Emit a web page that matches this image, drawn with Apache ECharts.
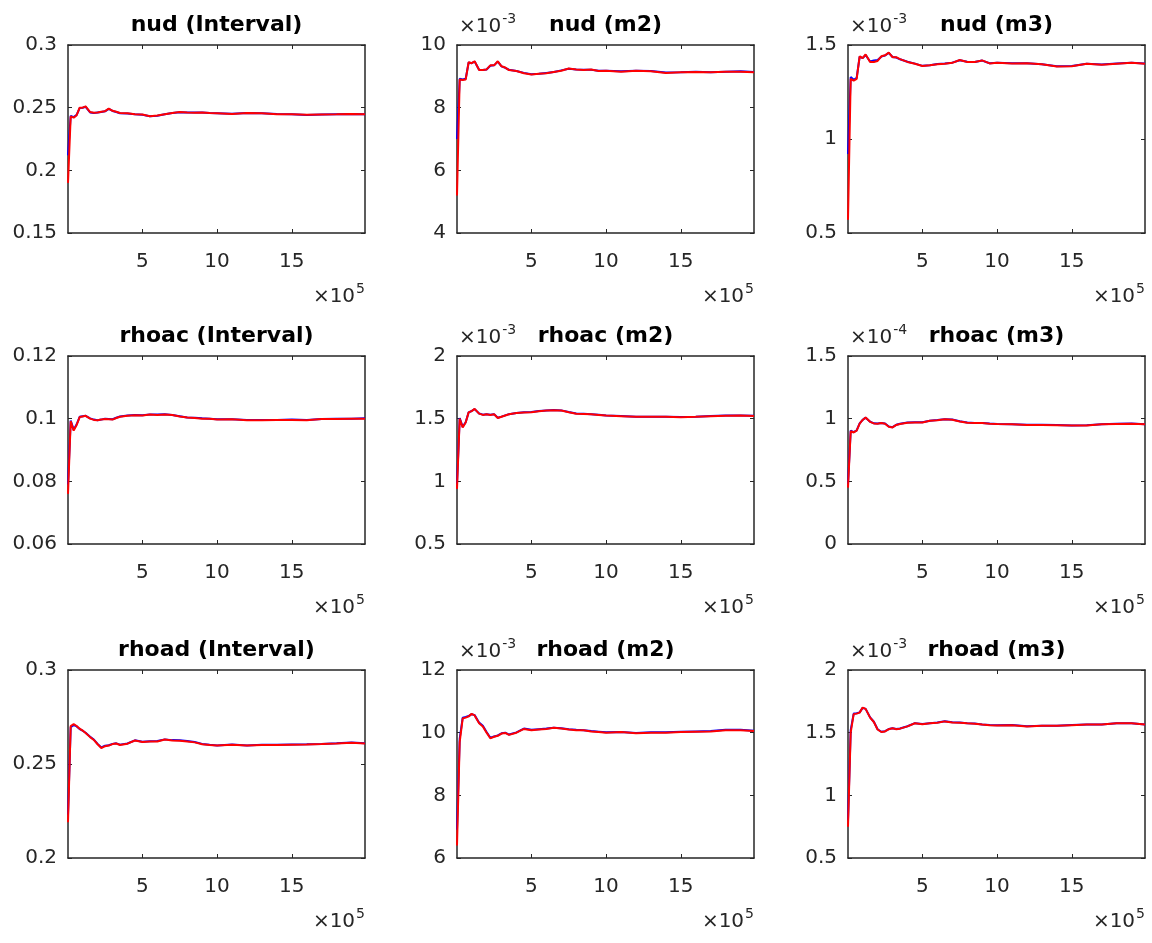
<!DOCTYPE html>
<html>
<head>
<meta charset="utf-8">
<script src="https://cdn.jsdelivr.net/npm/echarts@6/dist/echarts.min.js"></script>
<style>html,body{margin:0;padding:0;background:#fff}#c{width:1152px;height:943px}</style>
</head>
<body>
<div id="c"></div>
<script>
// draws (x 10^5)
const iterations = [0.02,0.2,0.4,0.6,0.8,1.0,1.2,1.5,1.75,2.0,2.25,2.5,2.75,3.0,3.25,3.5,4,4.5,5,5.5,6,6.5,7,7.5,8,8.5,9,9.5,10,11,12,13,14,15,16,17,18,19,19.9];
const xTicks = [5,10,15];

const titles = ['nud (Interval)','nud (m2)','nud (m3)','rhoac (Interval)','rhoac (m2)','rhoac (m3)','rhoad (Interval)','rhoad (m2)','rhoad (m3)'];
const exponents = ['','-3','-3','','-3','-4','','-3','-3'];
const xExponent = '5';

const nudIntervalTicks = [0.15,0.2,0.25,0.3];
const nudM2Ticks = [4,6,8,10];
const nudM3Ticks = [0.5,1,1.5];
const rhoacIntervalTicks = [0.06,0.08,0.1,0.12];
const rhoacM2Ticks = [0.5,1,1.5,2];
const rhoacM3Ticks = [0,0.5,1,1.5];
const rhoadIntervalTicks = [0.2,0.25,0.3];
const rhoadM2Ticks = [6,8,10,12];
const rhoadM3Ticks = [0.5,1,1.5,2];

const nudIntervalRed  = [0.190,0.2430,0.2420,0.2440,0.2500,0.2500,0.2510,0.2465,0.2460,0.2462,0.2468,0.2472,0.2492,0.2475,0.2468,0.2458,0.2455,0.2448,0.2445,0.2432,0.2437,0.2448,0.2458,0.2465,0.2462,0.2460,0.2462,0.2457,0.2455,0.2450,0.2457,0.2455,0.2448,0.2447,0.2443,0.2446,0.2447,0.2449,0.2447];
const nudIntervalBlue = [0.212,0.2435,0.2425,0.2442,0.2497,0.2500,0.2507,0.2462,0.2458,0.2462,0.2466,0.2471,0.2490,0.2474,0.2466,0.2456,0.2454,0.2447,0.2444,0.2432,0.2436,0.2447,0.2457,0.2464,0.2462,0.2461,0.2462,0.2458,0.2456,0.2451,0.2457,0.2456,0.2449,0.2447,0.2442,0.2445,0.2447,0.2449,0.2448];

const nudM2Red  = [5.2,8.90,8.88,8.90,9.45,9.42,9.48,9.20,9.20,9.22,9.35,9.35,9.48,9.32,9.28,9.20,9.17,9.10,9.06,9.08,9.10,9.14,9.18,9.25,9.22,9.20,9.22,9.17,9.18,9.15,9.18,9.16,9.11,9.13,9.14,9.13,9.15,9.15,9.13];
const nudM2Blue = [7.0,8.92,8.90,8.92,9.44,9.42,9.47,9.21,9.20,9.22,9.34,9.35,9.47,9.32,9.27,9.21,9.17,9.11,9.07,9.08,9.11,9.14,9.19,9.24,9.22,9.21,9.21,9.18,9.18,9.16,9.18,9.17,9.12,9.13,9.15,9.13,9.15,9.16,9.14];

const nudM3Red  = [0.57,1.320,1.310,1.320,1.440,1.430,1.450,1.410,1.410,1.415,1.440,1.445,1.460,1.435,1.435,1.425,1.410,1.400,1.388,1.392,1.398,1.400,1.405,1.420,1.410,1.410,1.418,1.402,1.405,1.402,1.403,1.397,1.386,1.387,1.400,1.395,1.400,1.405,1.400];
const nudM3Blue = [0.92,1.330,1.315,1.325,1.438,1.430,1.447,1.412,1.418,1.420,1.438,1.444,1.458,1.436,1.433,1.424,1.411,1.401,1.389,1.392,1.399,1.401,1.406,1.419,1.411,1.410,1.417,1.403,1.406,1.403,1.403,1.398,1.387,1.388,1.400,1.396,1.401,1.405,1.401];

const rhoacIntervalRed  = [0.0760,0.0992,0.0962,0.0980,0.1005,0.1007,0.1009,0.1000,0.0996,0.0995,0.0997,0.0999,0.0998,0.0997,0.1002,0.1006,0.1009,0.1011,0.1010,0.1013,0.1012,0.1013,0.1012,0.1007,0.1004,0.1002,0.1000,0.1000,0.0997,0.0998,0.0995,0.0995,0.0996,0.0996,0.0995,0.0999,0.0999,0.1000,0.1000];
const rhoacIntervalBlue = [0.0790,0.0994,0.0965,0.0982,0.1006,0.1008,0.1009,0.1001,0.0997,0.0995,0.0997,0.1000,0.0999,0.0998,0.1003,0.1007,0.1010,0.1012,0.1011,0.1013,0.1013,0.1014,0.1012,0.1008,0.1004,0.1003,0.1001,0.1000,0.0998,0.0998,0.0996,0.0996,0.0996,0.0997,0.0996,0.0999,0.1000,0.1000,0.1001];

const rhoacM2Red  = [0.94,1.500,1.430,1.470,1.550,1.560,1.578,1.540,1.530,1.535,1.530,1.535,1.505,1.515,1.525,1.535,1.545,1.550,1.552,1.560,1.565,1.568,1.565,1.552,1.540,1.538,1.535,1.530,1.525,1.520,1.515,1.515,1.515,1.512,1.515,1.520,1.524,1.525,1.522];
const rhoacM2Blue = [0.98,1.505,1.435,1.472,1.550,1.561,1.576,1.541,1.532,1.536,1.531,1.536,1.507,1.516,1.526,1.536,1.546,1.551,1.553,1.561,1.566,1.569,1.566,1.553,1.541,1.539,1.536,1.531,1.526,1.521,1.516,1.516,1.516,1.513,1.516,1.521,1.525,1.526,1.523];

const rhoacM3Red  = [0.45,0.900,0.890,0.905,0.960,0.990,1.010,0.975,0.962,0.960,0.965,0.960,0.935,0.930,0.950,0.958,0.968,0.970,0.970,0.983,0.988,0.995,0.992,0.978,0.968,0.965,0.965,0.960,0.957,0.955,0.950,0.950,0.948,0.945,0.946,0.955,0.958,0.960,0.955];
const rhoacM3Blue = [0.48,0.905,0.893,0.907,0.962,0.990,1.008,0.976,0.963,0.961,0.966,0.961,0.937,0.932,0.951,0.959,0.969,0.971,0.971,0.984,0.989,0.996,0.993,0.979,0.969,0.966,0.966,0.961,0.958,0.956,0.951,0.951,0.949,0.946,0.947,0.956,0.959,0.961,0.956];

const rhoadIntervalRed  = [0.2190,0.2702,0.2712,0.2702,0.2688,0.2678,0.2665,0.2643,0.2628,0.2605,0.2585,0.2595,0.2598,0.2606,0.2609,0.2601,0.2608,0.2625,0.2617,0.2620,0.2620,0.2630,0.2625,0.2624,0.2620,0.2615,0.2605,0.2601,0.2598,0.2603,0.2598,0.2601,0.2601,0.2603,0.2604,0.2606,0.2609,0.2613,0.2609];
const rhoadIntervalBlue = [0.2230,0.2695,0.2708,0.2700,0.2686,0.2677,0.2666,0.2645,0.2630,0.2607,0.2588,0.2597,0.2600,0.2607,0.2610,0.2603,0.2609,0.2626,0.2618,0.2621,0.2622,0.2631,0.2627,0.2626,0.2622,0.2617,0.2607,0.2602,0.2599,0.2604,0.2599,0.2602,0.2602,0.2604,0.2605,0.2607,0.2610,0.2614,0.2610];

const rhoadM2Red  = [6.4,9.70,10.45,10.48,10.52,10.60,10.55,10.30,10.20,10.00,9.82,9.87,9.90,9.97,9.99,9.93,10.00,10.12,10.08,10.10,10.12,10.16,10.13,10.10,10.08,10.08,10.04,10.02,10.00,10.02,9.98,10.00,10.00,10.02,10.03,10.04,10.08,10.08,10.05];
const rhoadM2Blue = [6.9,9.80,10.48,10.50,10.53,10.59,10.56,10.32,10.22,10.02,9.84,9.88,9.91,9.98,10.00,9.94,10.01,10.13,10.09,10.11,10.13,10.16,10.14,10.11,10.09,10.08,10.05,10.03,10.01,10.02,9.99,10.01,10.01,10.03,10.04,10.05,10.09,10.09,10.06];

const rhoadM3Red  = [0.75,1.500,1.648,1.652,1.660,1.700,1.690,1.620,1.585,1.525,1.505,1.510,1.528,1.535,1.528,1.532,1.550,1.575,1.568,1.575,1.580,1.590,1.582,1.580,1.575,1.572,1.565,1.560,1.558,1.560,1.550,1.555,1.555,1.560,1.565,1.565,1.575,1.575,1.565];
const rhoadM3Blue = [0.80,1.520,1.652,1.655,1.662,1.698,1.690,1.622,1.587,1.527,1.507,1.512,1.529,1.536,1.529,1.533,1.551,1.576,1.569,1.576,1.581,1.591,1.583,1.581,1.576,1.573,1.566,1.561,1.559,1.561,1.551,1.556,1.556,1.561,1.566,1.566,1.576,1.576,1.566];

const panels = [
  {red: nudIntervalRed, blue: nudIntervalBlue, ticks: nudIntervalTicks},
  {red: nudM2Red, blue: nudM2Blue, ticks: nudM2Ticks},
  {red: nudM3Red, blue: nudM3Blue, ticks: nudM3Ticks},
  {red: rhoacIntervalRed, blue: rhoacIntervalBlue, ticks: rhoacIntervalTicks},
  {red: rhoacM2Red, blue: rhoacM2Blue, ticks: rhoacM2Ticks},
  {red: rhoacM3Red, blue: rhoacM3Blue, ticks: rhoacM3Ticks},
  {red: rhoadIntervalRed, blue: rhoadIntervalBlue, ticks: rhoadIntervalTicks},
  {red: rhoadM2Red, blue: rhoadM2Blue, ticks: rhoadM2Ticks},
  {red: rhoadM3Red, blue: rhoadM3Blue, ticks: rhoadM3Ticks}
];

const FONT = "'DejaVu Sans', 'Liberation Sans', sans-serif";
const AX = '#262626';
const LABEL_SIZE = 20, SUP_SIZE = 14;
const colLeft = [68, 457, 848], rowTop = [45, 356, 670], W = 297, H = 188;
const fmt = v => String(+(+v).toPrecision(6));

// text width measurement for placing superscripts
const mctx = document.createElement('canvas').getContext('2d');
function textWidth(t, size) { mctx.font = size + 'px ' + FONT; return mctx.measureText(t).width; }
const baseW = textWidth('×10', LABEL_SIZE);
const baseStyle = {fontFamily:FONT, fontSize:LABEL_SIZE, fontWeight:'normal', color:AX, lineHeight:LABEL_SIZE};
const supStyle = {fontFamily:FONT, fontSize:SUP_SIZE, fontWeight:'normal', color:AX, lineHeight:SUP_SIZE};

const option = {animation:false, backgroundColor:'#fff', grid:[], xAxis:[], yAxis:[], series:[], title:[]};

panels.forEach((p, i) => {
  const c = i % 3, r = Math.floor(i / 3);
  const L = colLeft[c], T = rowTop[r];
  option.grid.push({left:L, top:T, width:W, height:H, show:false});
  const xMin = iterations[0], xMax = iterations[iterations.length - 1];
  const yMin = p.ticks[0], yMax = p.ticks[p.ticks.length - 1];
  ['bottom','top'].forEach(pos => {
    option.xAxis.push({
      gridIndex:i, type:'value', position:pos, min:xMin, max:xMax,
      axisLine:{show:true, onZero:false, lineStyle:{color:AX, width:1.5}},
      axisTick:{show:true, inside:true, length:4, customValues:xTicks, lineStyle:{color:AX, width:1}},
      axisLabel:{show:pos === 'bottom', customValues:xTicks, margin:19, color:AX, fontSize:LABEL_SIZE, fontFamily:FONT, formatter:fmt, hideOverlap:false},
      splitLine:{show:false}
    });
  });
  ['left','right'].forEach(pos => {
    option.yAxis.push({
      gridIndex:i, type:'value', position:pos, min:yMin, max:yMax,
      axisLine:{show:true, onZero:false, lineStyle:{color:AX, width:1.5}},
      axisTick:{show:true, inside:true, length:4, customValues:p.ticks, lineStyle:{color:AX, width:1}},
      axisLabel:{show:pos === 'left', customValues:p.ticks, margin:11, color:AX, fontSize:LABEL_SIZE, fontFamily:FONT, formatter:fmt, hideOverlap:false},
      splitLine:{show:false}
    });
  });
  option.series.push({
    type:'line', xAxisIndex:2*i, yAxisIndex:2*i, showSymbol:false, symbol:'none', z:2,
    lineStyle:{color:'#0000ff', width:2}, data: iterations.map((x, k) => [x, p.blue[k]])
  });
  option.series.push({
    type:'line', xAxisIndex:2*i, yAxisIndex:2*i, showSymbol:false, symbol:'none', z:3,
    lineStyle:{color:'#ff0000', width:2}, data: iterations.map((x, k) => [x, p.red[k]])
  });
  option.title.push({
    text: titles[i], left: L + W / 2, top: T - 32, textAlign:'center', padding:0,
    textStyle:{fontFamily:FONT, fontWeight:'bold', fontSize:22, color:'#000', lineHeight:24}
  });
  if (exponents[i]) {
    option.title.push({text:'×10', left: L + 2, top: T - 28, padding:0, textAlign:'left', textStyle:baseStyle});
    option.title.push({text:exponents[i], left: L + 3 + baseW, top: T - 33, padding:0, textAlign:'left', textStyle:supStyle});
  }
  const supW = textWidth(xExponent, SUP_SIZE);
  option.title.push({text:'×10', left: L + W - supW - 1, top: T + H + 54, padding:0, textAlign:'right', textStyle:baseStyle});
  option.title.push({text:xExponent, left: L + W, top: T + H + 49, padding:0, textAlign:'right', textStyle:supStyle});
});

const chart = echarts.init(document.getElementById('c'), null, {renderer:'canvas'});
chart.setOption(option);
</script>
</body>
</html>
